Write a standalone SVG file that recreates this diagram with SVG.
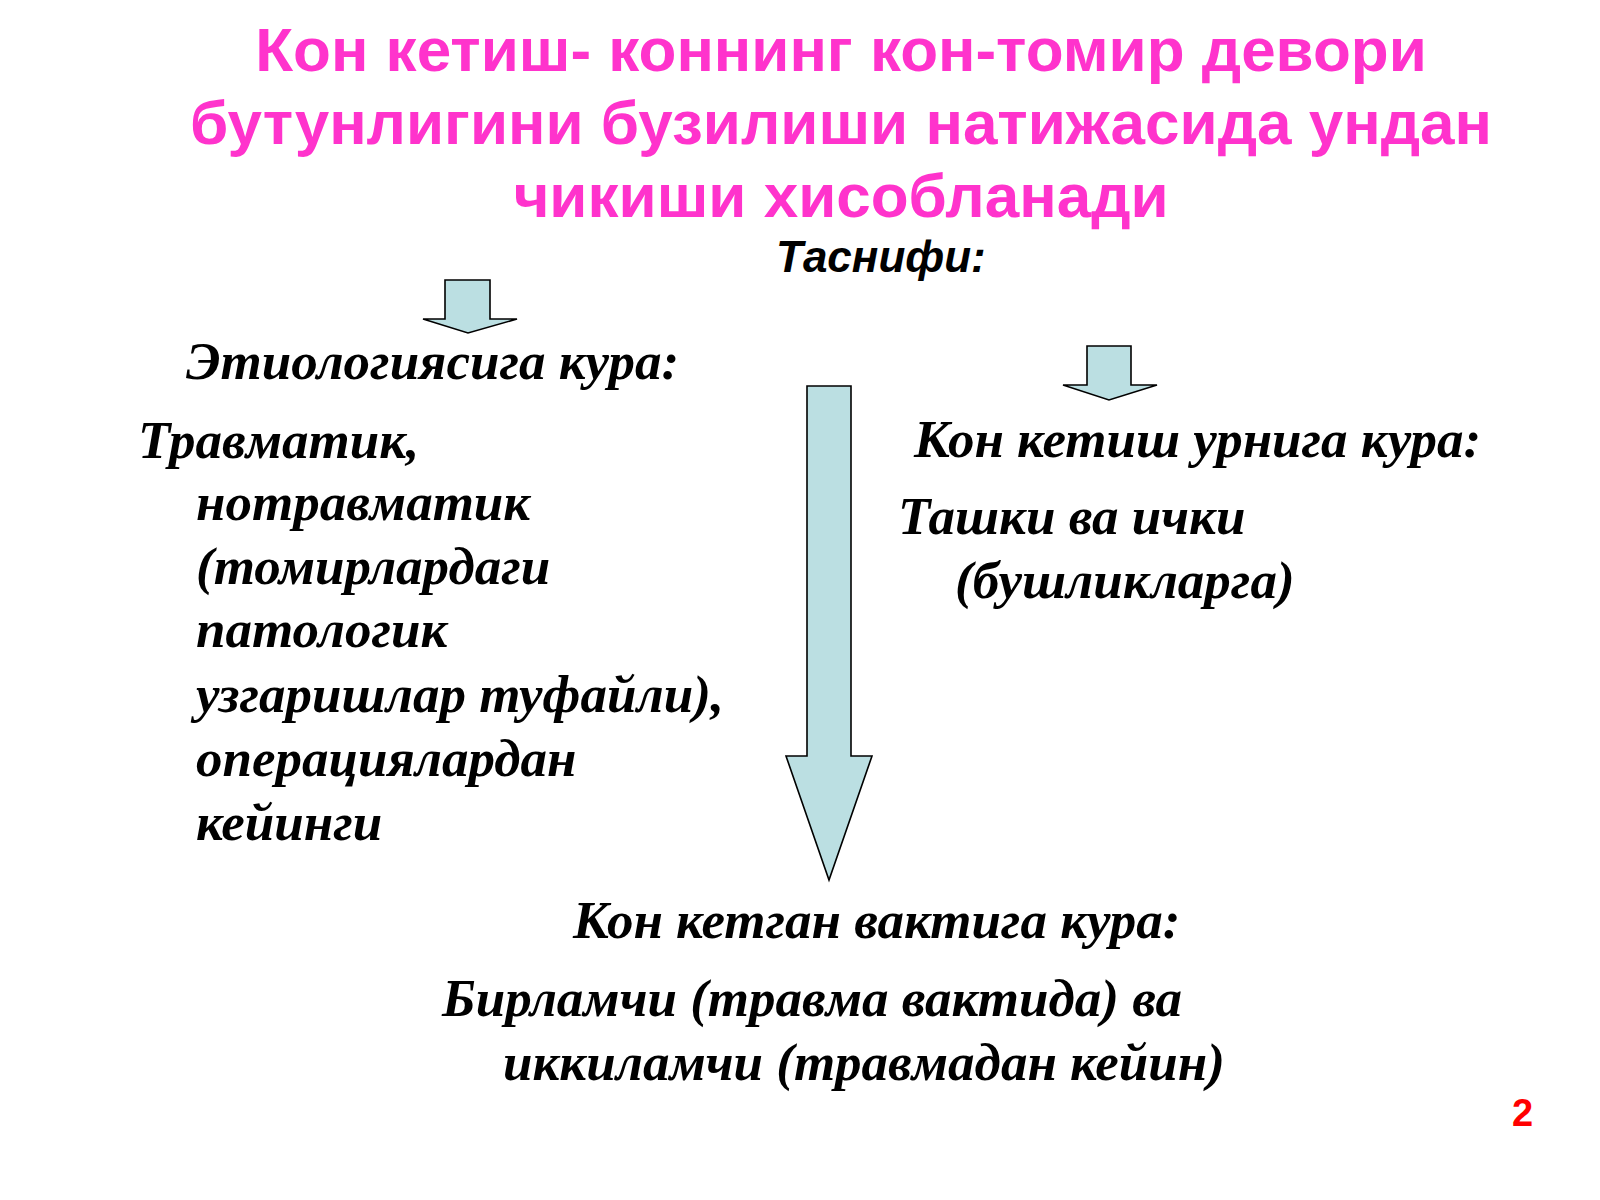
<svg xmlns="http://www.w3.org/2000/svg" width="1600" height="1200" viewBox="0 0 1600 1200">
<style>
.title{font-family:"Liberation Sans",Arial,sans-serif;font-weight:bold;font-size:62px;fill:#FF33CC;text-anchor:middle}
.sub{font-family:"Liberation Sans",Arial,sans-serif;font-weight:bold;font-style:italic;font-size:44px;fill:#000}
.t{font-family:"Liberation Serif","Times New Roman",serif;font-weight:bold;font-style:italic;font-size:53px;fill:#000}
.arrow{fill:#BBDFE2;stroke:#000;stroke-width:1.6;stroke-linejoin:miter}
.num{font-family:"Liberation Sans",Arial,sans-serif;font-weight:bold;font-size:38px;fill:#FF0000}
</style>
<rect width="1600" height="1200" fill="#FFFFFF"/>
<g id="title">
<text class="title" x="841" y="71">Кон кетиш- коннинг кон-томир девори</text>
<text class="title" x="841" y="144">бутунлигини бузилиши натижасида ундан</text>
<text class="title" x="841" y="217">чикиши хисобланади</text>
</g>
<g id="tasnifi"><text class="sub" x="776" y="272">Таснифи:</text></g>
<g id="connectors">
<polygon class="arrow" points="445,280 490,280 490,319 517,319 468,333 423,319 445,319"/>
<polygon class="arrow" points="1087,346 1131,346 1131,385 1157,385 1109,400 1063,385 1087,385"/>
<polygon class="arrow" points="807,386 851,386 851,756 872,756 829,880 786,756 807,756"/>
</g>
<g id="etiology">
<text class="t" x="186" y="379">Этиологиясига кура:</text>
<text class="t" x="138" y="458">Травматик,</text>
<text class="t" x="196" y="520">нотравматик</text>
<text class="t" x="196" y="584">(томирлардаги</text>
<text class="t" x="196" y="647">патологик</text>
<text class="t" x="196" y="712">узгаришлар туфайли),</text>
<text class="t" x="196" y="776">операциялардан</text>
<text class="t" x="196" y="840">кейинги</text>
</g>
<g id="location">
<text class="t" x="914" y="457">Кон кетиш урнига кура:</text>
<text class="t" x="898" y="534">Ташки ва ички</text>
<text class="t" x="955" y="598">(бушликларга)</text>
</g>
<g id="time">
<text class="t" x="573" y="938">Кон кетган вактига кура:</text>
<text class="t" x="442" y="1016">Бирламчи (травма вактида) ва</text>
<text class="t" x="503" y="1080">иккиламчи (травмадан кейин)</text>
</g>
<g id="page"><text class="num" x="1512" y="1126">2</text></g>
</svg>
